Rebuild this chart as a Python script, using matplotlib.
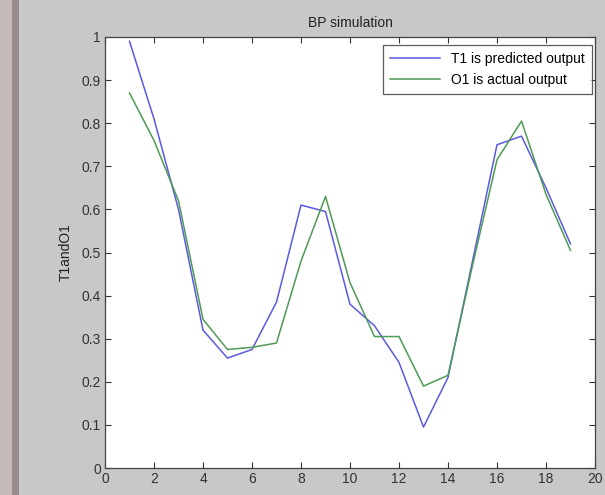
import matplotlib
matplotlib.use("Agg")
import matplotlib.pyplot as plt
from matplotlib.patches import Rectangle

plt.rcParams['font.family'] = ['Liberation Sans', 'DejaVu Sans']

x = list(range(1, 20))
t1_predicted = [0.99, 0.81, 0.60, 0.32, 0.255, 0.275, 0.385, 0.61, 0.595, 0.38,
                0.33, 0.245, 0.095, 0.21, 0.48, 0.75, 0.77, 0.65, 0.52]
o1_actual = [0.87, 0.76, 0.62, 0.345, 0.275, 0.28, 0.29, 0.48, 0.63, 0.43,
             0.305, 0.305, 0.19, 0.215, 0.47, 0.715, 0.805, 0.635, 0.505]
x_ticks = list(range(0, 21, 2))
y_ticks = [0, 0.1, 0.2, 0.3, 0.4, 0.5, 0.6, 0.7, 0.8, 0.9, 1]
y_tick_labels = ['0', '0.1', '0.2', '0.3', '0.4', '0.5', '0.6', '0.7', '0.8', '0.9', '1']

fig = plt.figure(figsize=(6.05, 4.95), dpi=100, facecolor='#c8c8c8')
# window border strip on the left
fig.patches.append(Rectangle((0, 0), 12/605, 1, transform=fig.transFigure,
                             facecolor='#c4baba', edgecolor='none', zorder=0))
fig.patches.append(Rectangle((12/605, 0), 7/605, 1, transform=fig.transFigure,
                             facecolor='#9a8c8c', edgecolor='none', zorder=0))

ax = fig.add_axes([105/605, 1 - 468/495, 490/605, 431/495])
ax.set_facecolor('white')
ax.plot(x, t1_predicted, color='#5a5ae0', lw=1.1, label='T1 is predicted output')
ax.plot(x, o1_actual, color='#4f9a55', lw=1.1, label='O1 is actual output')

ax.set_xlim(0, 20)
ax.set_ylim(0, 1)
ax.set_xticks(x_ticks)
ax.set_yticks(y_ticks)
ax.set_yticklabels(y_tick_labels)
ax.tick_params(direction='in', top=True, right=True, length=4, width=0.8,
               labelsize=10, colors='#333333', pad=3)
for s in ax.spines.values():
    s.set_color('#444444')
    s.set_linewidth(0.9)

ax.set_title('BP simulation', fontsize=10, color='#222222', pad=7)
ax.set_ylabel('T1andO1', fontsize=10, color='#222222', labelpad=6)

leg = ax.legend(loc='upper right', fontsize=10, frameon=True, fancybox=False,
                borderaxespad=0.0, handlelength=3.6, labelspacing=0.55,
                borderpad=0.5, bbox_to_anchor=(0.994, 0.982))
leg.get_frame().set_edgecolor('#333333')
leg.get_frame().set_linewidth(0.9)

fig.savefig('out.png', dpi=100, facecolor=fig.get_facecolor())
